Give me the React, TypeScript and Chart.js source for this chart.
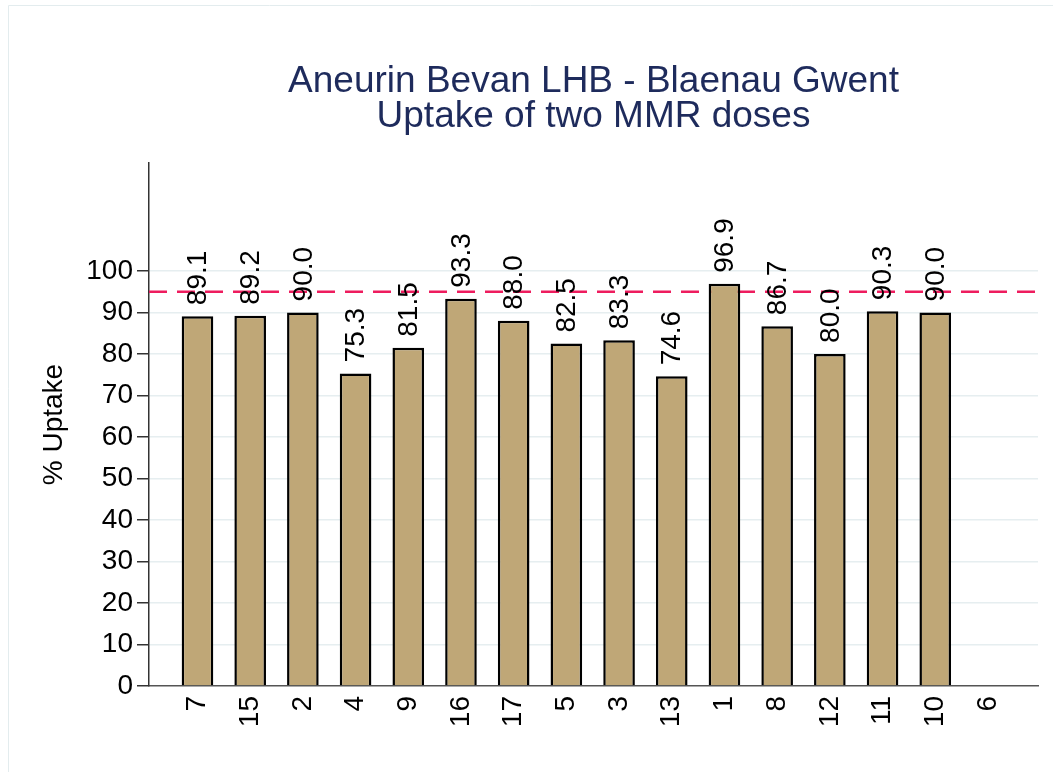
import React, { useEffect, useRef } from "react";
import { Chart, registerables } from "chart.js";

Chart.register(...registerables);

const categories: string[] = ["7", "15", "2", "4", "9", "16", "17", "5", "3", "13", "1", "8", "12", "11", "10", "6"];
const uptake: (number | null)[] = [89.1, 89.2, 90.0, 75.3, 81.5, 93.3, 88.0, 82.5, 83.3, 74.6, 96.9, 86.7, 80.0, 90.3, 90.0, null];
const targetLine = 95;
const yTicks: number[] = [0, 10, 20, 30, 40, 50, 60, 70, 80, 90, 100];
const titleLines: string[] = ["Aneurin Bevan LHB - Blaenau Gwent", "Uptake of two MMR doses"];
const yTitle = "% Uptake";

const FONT = '"Liberation Sans", Arial, Helvetica, sans-serif';

export default function App() {
  const ref = useRef<HTMLCanvasElement | null>(null);

  useEffect(() => {
    if (!ref.current) return;
    Chart.defaults.font.family = FONT;

    const frame = {
      id: "frame",
      beforeDraw(chart: any) {
        const ctx = chart.ctx;
        ctx.save();
        ctx.fillStyle = "#ffffff";
        ctx.fillRect(0, 0, chart.width, chart.height);
        ctx.strokeStyle = "#e3ecee";
        ctx.lineWidth = 1;
        ctx.beginPath();
        ctx.moveTo(8.5, chart.height);
        ctx.lineTo(8.5, 5.5);
        ctx.lineTo(chart.width, 5.5);
        ctx.stroke();
        // title
        const ca = chart.chartArea;
        const cx = (ca.left + ca.right) / 2;
        ctx.fillStyle = "#1e2b5c";
        ctx.font = `37px ${FONT}`;
        ctx.textAlign = "center";
        ctx.textBaseline = "alphabetic";
        ctx.fillText(titleLines[0], cx, 92);
        ctx.fillText(titleLines[1], cx, 127);
        ctx.restore();
      },
    };

    const refLine = {
      id: "refLine",
      beforeDatasetsDraw(chart: any) {
        const ctx = chart.ctx;
        const ca = chart.chartArea;
        const y = chart.scales.y.getPixelForValue(targetLine);
        ctx.save();
        ctx.strokeStyle = "#ee1c5e";
        ctx.lineWidth = 2.5;
        ctx.setLineDash([18, 10]);
        ctx.beginPath();
        ctx.moveTo(ca.left, y);
        ctx.lineTo(ca.right, y);
        ctx.stroke();
        ctx.restore();
      },
    };

    const labels = {
      id: "barLabels",
      afterDatasetsDraw(chart: any) {
        const ctx = chart.ctx;
        const meta = chart.getDatasetMeta(0);
        ctx.save();
        ctx.fillStyle = "#000";
        ctx.font = `28px ${FONT}`;
        meta.data.forEach((bar: any, i: number) => {
          const v = uptake[i];
          if (v == null) return;
          ctx.save();
          ctx.translate(bar.x + 1, bar.y - 11);
          ctx.rotate(-Math.PI / 2);
          ctx.textAlign = "left";
          ctx.textBaseline = "middle";
          ctx.fillText(v.toFixed(1), 0, 0);
          ctx.restore();
        });
        ctx.restore();
      },
    };

    const chart = new Chart(ref.current, {
      type: "bar",
      data: {
        datasets: [
          {
            data: categories.map((c, i) => ({ x: i, y: uptake[i] })) as any,
            backgroundColor: "#bfa777",
            borderColor: "#000000",
            borderWidth: 2.5,
            categoryPercentage: 1,
            barPercentage: 0.6,
          },
        ],
      },
      options: {
        responsive: false,
        animation: false,
        layout: { padding: { left: 0, right: 15, top: 163, bottom: 0 } },
        plugins: {
          legend: { display: false },
          tooltip: { enabled: false },
          title: { display: false },
        },
        scales: {
          x: {
            type: "linear",
            bounds: "data",
            offset: false,
            min: -0.92,
            max: 15.95,
            afterBuildTicks: (axis: any) => {
              axis.ticks = categories.map((_, i) => ({ value: i }));
            },
            afterFit: (axis: any) => {
              axis.height = 86;
            },
            ticks: {
              autoSkip: false,
              maxRotation: 90,
              minRotation: 90,
              padding: 10,
              color: "#000",
              font: { size: 28, family: FONT },
              callback: (v: any) => categories[Math.round(Number(v))] ?? "",
            },
            grid: { display: false, drawTicks: false, offset: false },
            border: { display: true, color: "#555", width: 1.5 },
          },
          y: {
            type: "linear",
            bounds: "data",
            min: 0,
            max: 126,
            afterBuildTicks: (axis: any) => {
              axis.ticks = yTicks.map((v) => ({ value: v }));
            },
            afterFit: (axis: any) => {
              axis.width = 149;
            },
            ticks: {
              padding: 4,
              color: "#000",
              font: { size: 28, family: FONT },
            },
            grid: {
              color: (c: any) => (c.tick && c.tick.value === 0 ? "rgba(0,0,0,0)" : "#e6eef0"),
              lineWidth: 1.5,
              tickLength: 12,
              tickColor: "#333",
              tickWidth: 1.5,
            },
            border: { display: true, color: "#333", width: 1.5 },
            title: {
              display: true,
              text: yTitle,
              color: "#000",
              font: { size: 28, family: FONT },
              padding: { top: 37, bottom: 0 },
            },
          },
        },
      },
      plugins: [frame, refLine, labels],
    } as any);

    return () => chart.destroy();
  }, []);

  return (
    <div style={{ position: "absolute", left: 0, top: 0, width: 1053, height: 772 }}>
      <canvas ref={ref} width={1053} height={772} style={{ display: "block", width: 1053, height: 772 }} />
    </div>
  );
}
